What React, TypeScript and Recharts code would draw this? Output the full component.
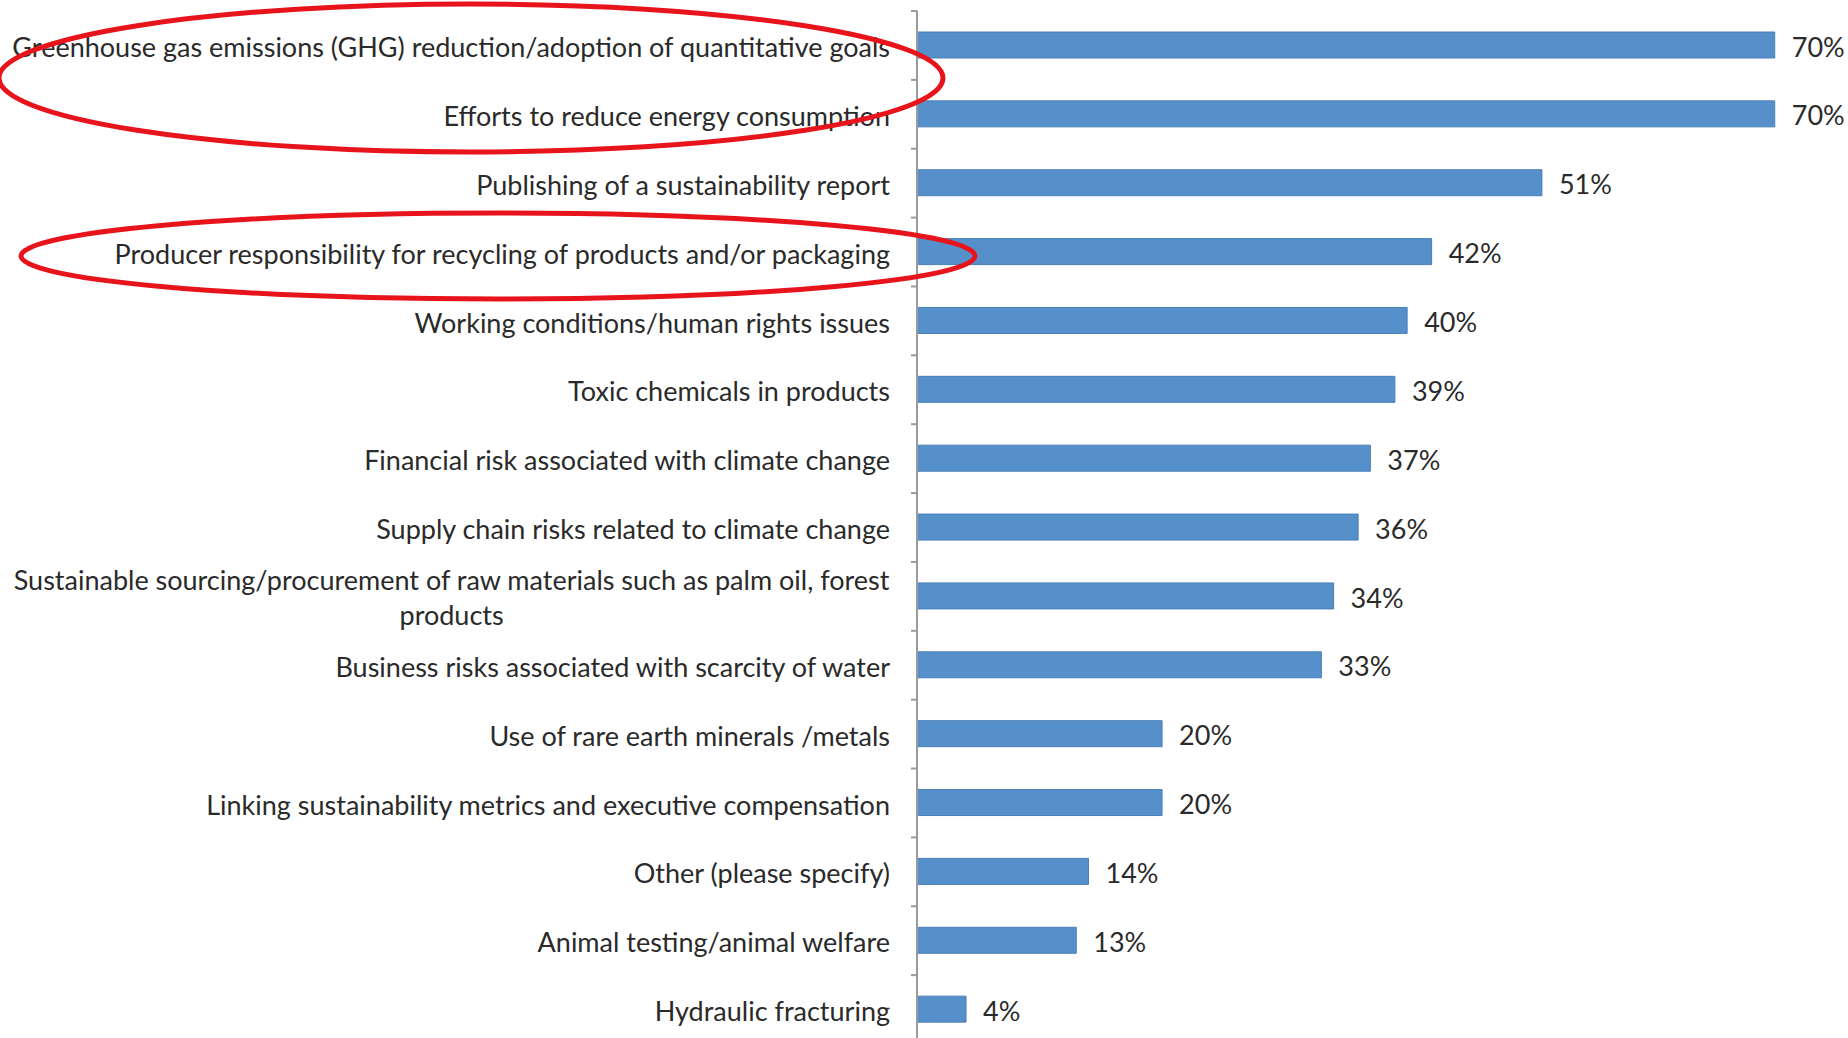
import React from 'react';
import { Bar, BarChart, LabelList, XAxis, YAxis } from 'recharts';

const categories = [
  'Greenhouse gas emissions (GHG) reduction/adoption of quantitative goals',
  'Efforts to reduce energy consumption',
  'Publishing of a sustainability report',
  'Producer responsibility for recycling of products and/or packaging',
  'Working conditions/human rights issues',
  'Toxic chemicals in products',
  'Financial risk associated with climate change',
  'Supply chain risks related to climate change',
  'Sustainable sourcing/procurement of raw materials such as palm oil, forest\nproducts',
  'Business risks associated with scarcity of water',
  'Use of rare earth minerals /metals',
  'Linking sustainability metrics and executive compensation',
  'Other (please specify)',
  'Animal testing/animal welfare',
  'Hydraulic fracturing',
];

const shares = [70, 70, 51, 42, 40, 39, 37, 36, 34, 33, 20, 20, 14, 13, 4];

const data = categories.map((name, i) => ({ name, value: shares[i] }));

const W = 1848;
const H = 1044;
const TOP = 11;
const AXIS_X = 917;
const FONT = 'Lato, "Open Sans", sans-serif';
const FS = 27;
const TEXT = '#2a2a2a';
const BAND = (H - TOP) / categories.length;

function textWidth(s: string) {
  const ctx = document.createElement('canvas').getContext('2d');
  if (!ctx) return s.length * FS * 0.5;
  ctx.font = `${FS}px Lato`;
  return ctx.measureText(s).width;
}

// category label, right aligned, with Excel-style ticks between categories
function CategoryTick(props: any) {
  const { x, y, payload, index } = props;
  const lines: string[] = String(payload.value).split('\n');
  const last = index === categories.length - 1;
  const marks = (
    <>
      <line x1={AXIS_X - 6} x2={AXIS_X} y1={y - BAND / 2} y2={y - BAND / 2} stroke="#9a9a9a" strokeWidth={2} />
      {last && (
        <line x1={AXIS_X - 6} x2={AXIS_X} y1={y + BAND / 2} y2={y + BAND / 2} stroke="#9a9a9a" strokeWidth={2} />
      )}
    </>
  );
  if (lines.length === 1) {
    return (
      <g>
        {marks}
        <text x={x} y={y} dy="0.43em" textAnchor="end" fill={TEXT} fontSize={FS} fontFamily={FONT}>
          {lines[0]}
        </text>
      </g>
    );
  }
  const mid = x - textWidth(lines[0]) / 2;
  const lh = 35;
  const y0 = y - ((lines.length - 1) * lh) / 2;
  return (
    <g>
      {marks}
      {lines.map((l, i) => (
        <text
          key={i}
          x={mid}
          y={y0 + i * lh}
          dy="0.43em"
          textAnchor="middle"
          fill={TEXT}
          fontSize={FS}
          fontFamily={FONT}
        >
          {l}
        </text>
      ))}
    </g>
  );
}

export default function App() {
  return (
    <div
      style={{
        position: 'absolute',
        left: 0,
        top: 0,
        width: W,
        height: 1038,
        overflow: 'hidden',
        background: '#fff',
      }}
    >
      <BarChart
        width={W}
        height={H}
        data={data}
        layout="vertical"
        margin={{ top: TOP, right: 12, bottom: 0, left: 0 }}
        barCategoryGap={0}
      >
        <XAxis type="number" domain={[0, 75]} hide />
        <YAxis
          type="category"
          dataKey="name"
          width={AXIS_X}
          interval={0}
          axisLine={{ stroke: '#9a9a9a', strokeWidth: 2 }}
          tickLine={false}
          tickSize={6}
          tickMargin={21}
          tick={<CategoryTick />}
        />
        <Bar dataKey="value" barSize={26} fill="#5690cb" stroke="#4a7fb8" strokeWidth={1} isAnimationActive={false}>
          <LabelList
            dataKey="value"
            position="right"
            offset={17}
            dy={2}
            formatter={(v: any) => `${v}%`}
            fill={TEXT}
            fontSize={FS}
            fontFamily={FONT}
          />
        </Bar>
      </BarChart>
      <svg
        width={W}
        height={1038}
        style={{ position: 'absolute', left: 0, top: 0, pointerEvents: 'none' }}
      >
        <ellipse cx={471} cy={78} rx={472} ry={74} fill="none" stroke="#e8141b" strokeWidth={5} />
        <ellipse cx={498} cy={256} rx={477} ry={43} fill="none" stroke="#e8141b" strokeWidth={5} />
      </svg>
    </div>
  );
}
